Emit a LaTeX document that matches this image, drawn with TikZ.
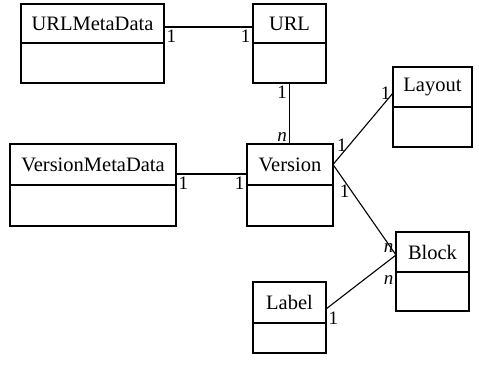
\documentclass[tikz,border=0pt]{standalone}
\usepackage{fontspec}
\setmainfont{Liberation Serif}
\usetikzlibrary{positioning}

\begin{document}
\begin{tikzpicture}[
    x=1pt, y=-1pt,
    classname/.style={rectangle, draw, line width=1.4pt, inner sep=0pt, outer sep=0pt, anchor=north west, font=\fontsize{20.5}{24}\selectfont},
    classattr/.style={rectangle, draw, line width=1.4pt, inner sep=0pt, outer sep=0pt},
    assoc/.style={line width=1.1pt},
    mult/.style={inner sep=2pt, font=\fontsize{19}{21}\selectfont}
]
    \useasboundingbox[fill=white] (0,0) rectangle (479,365);

    \node[classname, minimum width=143pt, minimum height=39pt] (umeta) at (21,4) {URLMetaData};
    \node[classattr, minimum width=143pt, minimum height=40pt, below=0pt of umeta] (umetab) {};

    \node[classname, minimum width=73pt, minimum height=39pt] (url) at (253,4) {URL};
    \node[classattr, minimum width=73pt, minimum height=40pt, below=0pt of url] (urlb) {};

    \node[classname, minimum width=166pt, minimum height=41pt] (vmeta) at (10,144) {VersionMetaData};
    \node[classattr, minimum width=166pt, minimum height=41pt, below=0pt of vmeta] (vmetab) {};

    \node[classname, minimum width=86pt, minimum height=41pt] (ver) at (247,144) {Version};
    \node[classattr, minimum width=86pt, minimum height=41pt, below=0pt of ver] (verb) {};

    \node[classname, minimum width=79pt, minimum height=40pt] (layout) at (393,67) {Layout};
    \node[classattr, minimum width=79pt, minimum height=40pt, below=0pt of layout] (layoutb) {};

    \node[classname, minimum width=73pt, minimum height=40pt] (block) at (396,232) {Block};
    \node[classattr, minimum width=73pt, minimum height=39pt, below=0pt of block] (blockb) {};

    \node[classname, minimum width=73pt, minimum height=41pt] (label) at (253,282) {Label};
    \node[classattr, minimum width=73pt, minimum height=30pt, below=0pt of label] (labelb) {};

    % associations
    \draw[assoc] ([yshift=-3.5pt]umeta.east) -- node[mult, pos=0, below right]{1} node[mult, pos=1, below left]{1} ([yshift=-3.5pt]url.west);
    \draw[assoc] (urlb.south) -- node[mult, pos=0, below left]{1} node[mult, pos=1, above left]{\textit{n}} (urlb.south |- ver.north);
    \draw[assoc] ([yshift=-9.5pt]vmeta.east) -- node[mult, pos=0, below right]{1} node[mult, pos=1, below left]{1} ([yshift=-9.5pt]ver.west);
    \draw[assoc] (ver.east) -- node[mult, pos=0.27, left]{1} node[mult, pos=1, left]{1} ([yshift=-6pt]layout.west);
    \draw[assoc] (ver.east) -- node[mult, pos=0.3, left]{1} node[mult, pos=1, above left]{\textit{n}} ([yshift=-3pt]block.west);
    \draw[assoc] ([yshift=-6.5pt]label.east) -- node[mult, pos=0, below right]{1} node[mult, pos=1, below left=18pt and 0pt]{\textit{n}} ([yshift=-3pt]block.west);
\end{tikzpicture}
\end{document}
